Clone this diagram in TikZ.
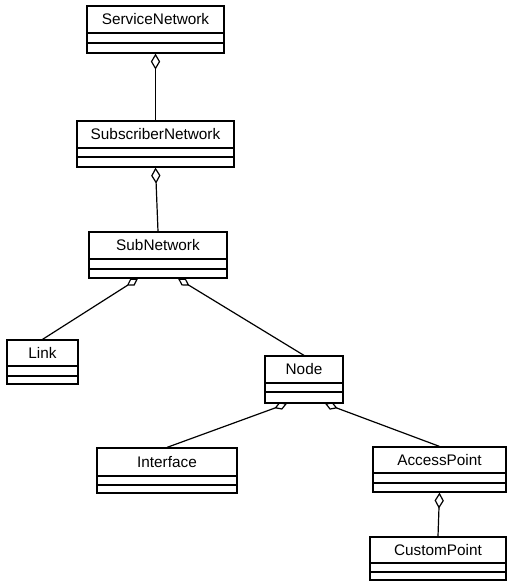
\documentclass[tikz,border=0pt]{standalone}
\usepackage{fontspec}
\setmainfont{Liberation Sans}
\usetikzlibrary{arrows.meta,fit,calc}

\tikzset{
  classbox/.style={draw, line width=0.9pt, inner sep=0pt},
  classname/.style={inner sep=0.75pt, font=\fontsize{11.5}{13}\selectfont},
  agg/.style={{Diamond[open, length=12pt, width=7pt, line width=0.9pt]}-, line width=0.9pt},
  aggsmall/.style={{Diamond[open, length=10pt, width=6pt, line width=0.9pt]}-, line width=0.9pt}
}

\begin{document}
\begin{tikzpicture}[x=0.75pt,y=0.75pt,yscale=-1,xscale=1]
\useasboundingbox (0,0) rectangle (507,587);

%Shape: Class [id:ServiceNetwork]
\node [classbox, fit={(87,6) (224,53)}] (svc) {};
\draw [line width=0.9pt] (87,33) -- (224,33) ;
\draw [line width=0.9pt] (87,43) -- (224,43) ;
%Shape: Class [id:SubscriberNetwork]
\node [classbox, fit={(77,121) (234,167)}] (subsc) {};
\draw [line width=0.9pt] (77,148) -- (234,148) ;
\draw [line width=0.9pt] (77,157) -- (234,157) ;
%Shape: Class [id:SubNetwork]
\node [classbox, fit={(89,232) (227,278)}] (subnet) {};
\draw [line width=0.9pt] (89,259) -- (227,259) ;
\draw [line width=0.9pt] (89,269) -- (227,269) ;
%Shape: Class [id:Link]
\node [classbox, fit={(7,340) (78,384)}] (link) {};
\draw [line width=0.9pt] (7,366) -- (78,366) ;
\draw [line width=0.9pt] (7,376) -- (78,376) ;
%Shape: Class [id:Node]
\node [classbox, fit={(265,356) (343,403)}] (nd) {};
\draw [line width=0.9pt] (265,383) -- (343,383) ;
\draw [line width=0.9pt] (265,392) -- (343,392) ;
%Shape: Class [id:Interface]
\node [classbox, fit={(97,448) (237,493)}] (iface) {};
\draw [line width=0.9pt] (97,476) -- (237,476) ;
\draw [line width=0.9pt] (97,485) -- (237,485) ;
%Shape: Class [id:AccessPoint]
\node [classbox, fit={(373,447) (506,492)}] (ap) {};
\draw [line width=0.9pt] (373,473) -- (506,473) ;
\draw [line width=0.9pt] (373,483) -- (506,483) ;
%Shape: Class [id:CustomPoint]
\node [classbox, fit={(370,537) (506,580)}] (cp) {};
\draw [line width=0.9pt] (370,563) -- (506,563) ;
\draw [line width=0.9pt] (370,572) -- (506,572) ;

% Text Node
\node [classname] (svc-t) at (155.5,19.5) {ServiceNetwork};
% Text Node
\node [classname] (subsc-t) at (155.5,134.5) {SubscriberNetwork};
% Text Node
\node [classname] (subnet-t) at (158,245.5) {SubNetwork};
% Text Node
\node [classname] (link-t) at (42.5,353) {Link};
% Text Node
\node [classname] (nd-t) at (304,369.5) {Node};
% Text Node
\node [classname] (iface-t) at (167,462) {Interface};
% Text Node
\node [classname] (ap-t) at (439.5,460) {AccessPoint};
% Text Node
\node [classname] (cp-t) at (438,550) {CustomPoint};

%Aggregations
\draw [agg] (svc.south) -- (subsc.north) ;
\draw [agg] (subsc.south) -- (subnet.north) ;
\draw [aggsmall] ($(subnet.south)+(-20,0)$) -- (link.north) ;
\draw [aggsmall] ($(subnet.south)+(20,0)$) -- (nd.north) ;
\draw [aggsmall] ($(nd.south)+(-17,0)$) -- (iface.north) ;
\draw [aggsmall] ($(nd.south)+(21,0)$) -- (ap.north) ;
\draw [agg] (ap.south) -- (cp.north) ;

\end{tikzpicture}
\end{document}
